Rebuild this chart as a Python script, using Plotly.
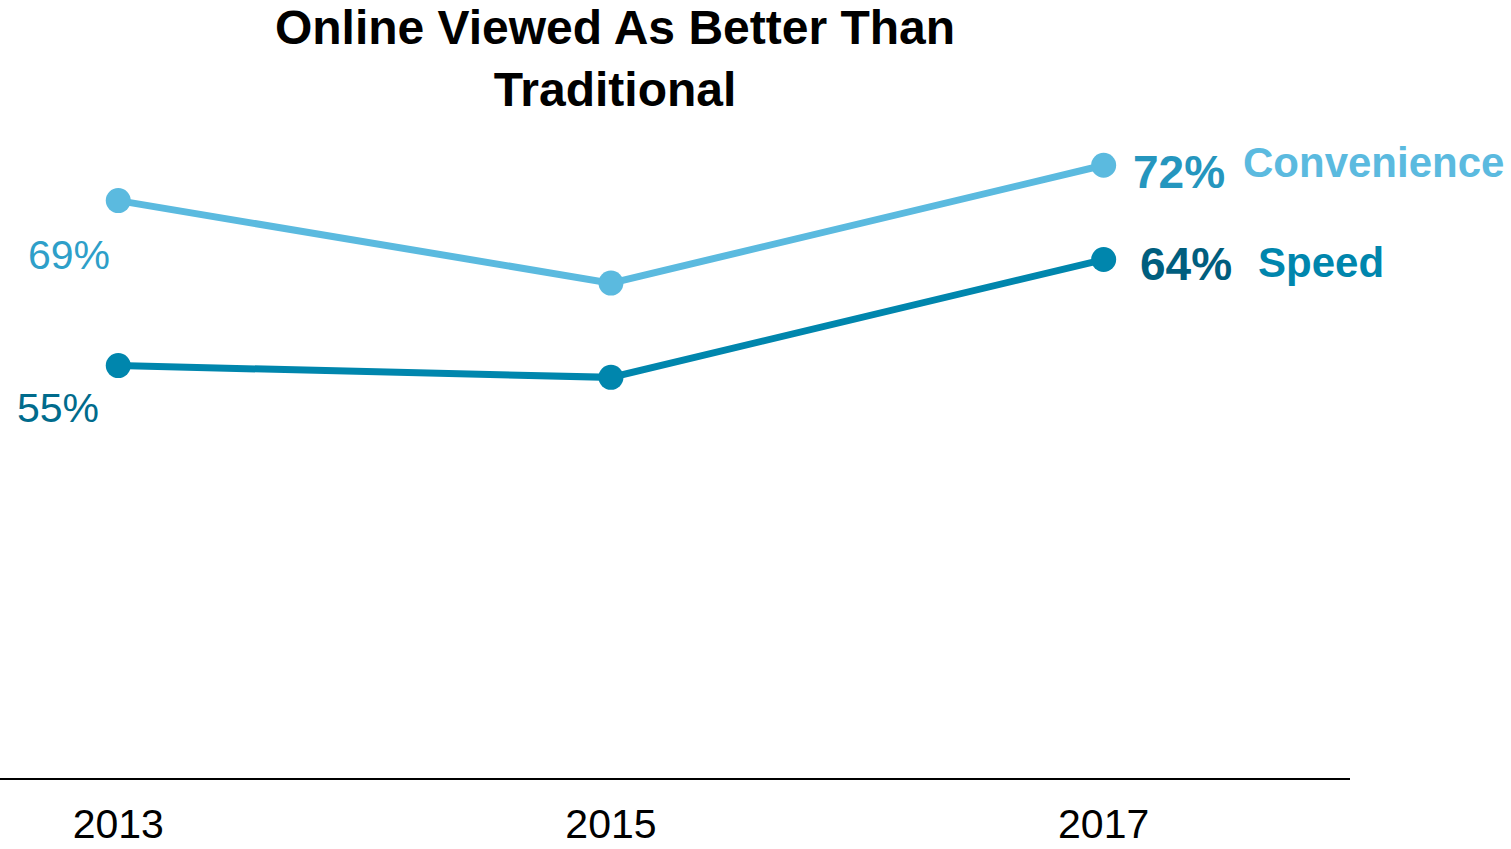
import plotly.graph_objects as go

years = [2013, 2015, 2017]
convenience = [69, 62, 72]
speed = [55, 54, 64]
year_labels = ["2013", "2015", "2017"]

conv_color = "#5BBADF"
speed_color = "#0086AD"
font = "Liberation Sans, Arial, sans-serif"

fig = go.Figure()
fig.add_trace(go.Scatter(x=years, y=convenience, mode="lines+markers",
                         line=dict(color=conv_color, width=7),
                         marker=dict(color=conv_color, size=25),
                         name="Convenience", hoverinfo="skip"))
fig.add_trace(go.Scatter(x=years, y=speed, mode="lines+markers",
                         line=dict(color=speed_color, width=7),
                         marker=dict(color=speed_color, size=25),
                         name="Speed", hoverinfo="skip"))

annotations = [
    dict(x=years[0], y=convenience[0], text=f"{convenience[0]}%", xanchor="right",
         xshift=-6, yshift=-54, font=dict(size=41, color="#2E9FC9")),
    dict(x=years[0], y=speed[0], text=f"{speed[0]}%", xanchor="right",
         xshift=-17, yshift=-42, font=dict(size=41, color="#006B8C")),
    dict(x=years[-1], y=convenience[-1], text=f"<b>{convenience[-1]}%</b>", xanchor="left",
         xshift=27, yshift=-7, font=dict(size=46, color="#2596BE")),
    dict(x=years[-1], y=convenience[-1], text="<b>Convenience</b>", xanchor="left",
         xshift=137, yshift=3, font=dict(size=42, color=conv_color)),
    dict(x=years[-1], y=speed[-1], text=f"<b>{speed[-1]}%</b>", xanchor="left",
         xshift=34, yshift=-4, font=dict(size=46, color="#005E7E")),
    dict(x=years[-1], y=speed[-1], text="<b>Speed</b>", xanchor="left",
         xshift=152, yshift=-3, font=dict(size=42, color=speed_color)),
]
for a in annotations:
    a.update(xref="x", yref="y", showarrow=False, yanchor="middle",
             font=dict(family=font, **a["font"]))
fig.update_layout(annotations=annotations)

fig.update_layout(
    width=1511, height=849,
    margin=dict(l=0, r=161, t=71, b=71, autoexpand=False),
    paper_bgcolor="white", plot_bgcolor="white",
    showlegend=False,
    title=dict(text="<b>Online Viewed As Better Than<br>Traditional</b>",
               x=615 / 1511, xanchor="center", xref="container",
               y=1 - 44 / 849, yanchor="middle", yref="container",
               font=dict(family=font, size=48, color="black")),
    xaxis=dict(range=[2012.52, 2018.0], tickvals=years, ticktext=year_labels,
               showgrid=False, zeroline=False, showline=True, linecolor="black",
               linewidth=2, ticks="", ticklabelstandoff=9, automargin=False,
               tickfont=dict(family=font, size=41, color="black")),
    yaxis=dict(range=[20, 80], visible=False, showgrid=False, zeroline=False,
               automargin=False),
)

fig.write_html("out.html")
